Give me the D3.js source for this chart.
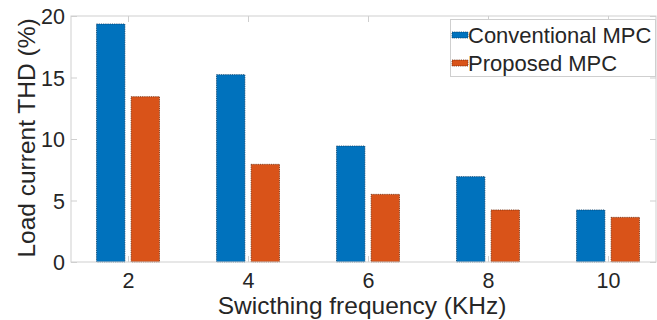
<!DOCTYPE html>
<html>
<head>
<meta charset="utf-8">
<script src="https://cdn.jsdelivr.net/npm/d3@7/dist/d3.min.js"></script>
<style>
  html, body { margin: 0; padding: 0; background: #fff; }
  svg { display: block; font-family: "Liberation Sans", Arial, Helvetica, sans-serif; }
</style>
</head>
<body>
<svg id="chart" width="657" height="320"></svg>
<script>
// Switching frequency (kHz) and load current THD (%) for both controllers
const frequencies = [2, 4, 6, 8, 10];
const seriesNames = ["Conventional MPC", "Proposed MPC"];
const conventionalTHD = [19.35, 15.23, 9.43, 6.94, 4.23];
const proposedTHD = [13.44, 7.94, 5.5, 4.23, 3.63];
const yTicks = [0, 5, 10, 15, 20];
const seriesColors = ["#0072BD", "#D95319"];
const seriesEdges = ["#0b3f66", "#6e2a0c"];

const svg = d3.select("#chart");
const plot = { left: 71, right: 656, top: 16, bottom: 262 };

const x = d3.scaleLinear().domain([1.05, 10.8]).range([plot.left, plot.right]);
const y = d3.scaleLinear().domain([0, 20]).range([plot.bottom, plot.top]);

// offsets of the two bars inside each group
const groupHalf = (x(2.525) - x(2)); // half-width of a bar group in px
const inner = d3.scaleBand().domain(seriesNames).range([-groupHalf, groupHalf]).paddingInner(0.18);

const tickColor = "#262626";
const boxColor = "#cfcfcf";
const tickLen = 6;

// bars
const rows = frequencies.map((f, i) => ({ f, values: [conventionalTHD[i], proposedTHD[i]] }));
const groups = svg.append("g").selectAll("g").data(rows).join("g")
  .attr("transform", d => `translate(${x(d.f)},0)`);
groups.selectAll("rect")
  .data(d => d.values.map((v, k) => ({ v, k })))
  .join("rect")
  .attr("x", d => inner(seriesNames[d.k]))
  .attr("width", inner.bandwidth())
  .attr("y", d => y(d.v))
  .attr("height", d => y(0) - y(d.v))
  .attr("fill", d => seriesColors[d.k])
  .attr("stroke", d => seriesEdges[d.k])
  .attr("stroke-width", 1)
  .attr("stroke-dasharray", "1.2,1")
  .attr("stroke-opacity", 0.8);

// axes box
svg.append("rect")
  .attr("x", plot.left).attr("y", plot.top)
  .attr("width", plot.right - plot.left).attr("height", plot.bottom - plot.top)
  .attr("fill", "none").attr("stroke", boxColor).attr("stroke-width", 1);

// bottom / top axes (inward ticks)
const xAxisBottom = d3.axisBottom(x).tickValues(frequencies).tickSizeInner(-tickLen).tickSizeOuter(0).tickPadding(11);
const gxb = svg.append("g").attr("transform", `translate(0,${plot.bottom})`).call(xAxisBottom);
const xAxisTop = d3.axisTop(x).tickValues(frequencies).tickSizeInner(-tickLen).tickSizeOuter(0).tickFormat("");
const gxt = svg.append("g").attr("transform", `translate(0,${plot.top})`).call(xAxisTop);

// left / right axes
const yAxisLeft = d3.axisLeft(y).tickValues(yTicks).tickSizeInner(-tickLen).tickSizeOuter(0).tickPadding(6);
const gyl = svg.append("g").attr("transform", `translate(${plot.left},0)`).call(yAxisLeft);
const yAxisRight = d3.axisRight(y).tickValues(yTicks).tickSizeInner(-tickLen).tickSizeOuter(0).tickFormat("");
const gyr = svg.append("g").attr("transform", `translate(${plot.right},0)`).call(yAxisRight);

[gxb, gxt, gyl, gyr].forEach(g => {
  g.select(".domain").remove();
  g.selectAll(".tick line").attr("stroke", boxColor);
  g.selectAll("text").attr("fill", tickColor).attr("font-size", 21.5)
    .attr("font-family", "'Liberation Sans', Arial, sans-serif");
});
gxb.selectAll("text").attr("dy", "0.71em");
gyl.selectAll("text").attr("dy", "0.36em");

// axis titles
svg.append("text")
  .attr("x", 362).attr("y", 314)
  .attr("text-anchor", "middle")
  .attr("font-size", 24.5).attr("fill", tickColor)
  .text("Swicthing frequency (KHz)");

svg.append("text")
  .attr("transform", "translate(35,138) rotate(-90)")
  .attr("text-anchor", "middle")
  .attr("font-size", 24.5).attr("fill", tickColor)
  .text("Load current THD (%)");

// legend
const legend = svg.append("g");
legend.append("rect")
  .attr("x", 450.5).attr("y", 19.5).attr("width", 205).attr("height", 57)
  .attr("fill", "#fff").attr("stroke", boxColor).attr("stroke-width", 1);
seriesNames.forEach((name, k) => {
  const cy = 35 + k * 28;
  legend.append("rect")
    .attr("x", 452).attr("y", cy - 3).attr("width", 16).attr("height", 6)
    .attr("fill", seriesColors[k])
    .attr("stroke", seriesEdges[k]).attr("stroke-width", 1)
    .attr("stroke-dasharray", "1.2,1").attr("stroke-opacity", 0.8);
  legend.append("text")
    .attr("x", 468).attr("y", cy).attr("dy", "0.36em")
    .attr("font-size", 22).attr("fill", tickColor)
    .text(name);
});
</script>
</body>
</html>
